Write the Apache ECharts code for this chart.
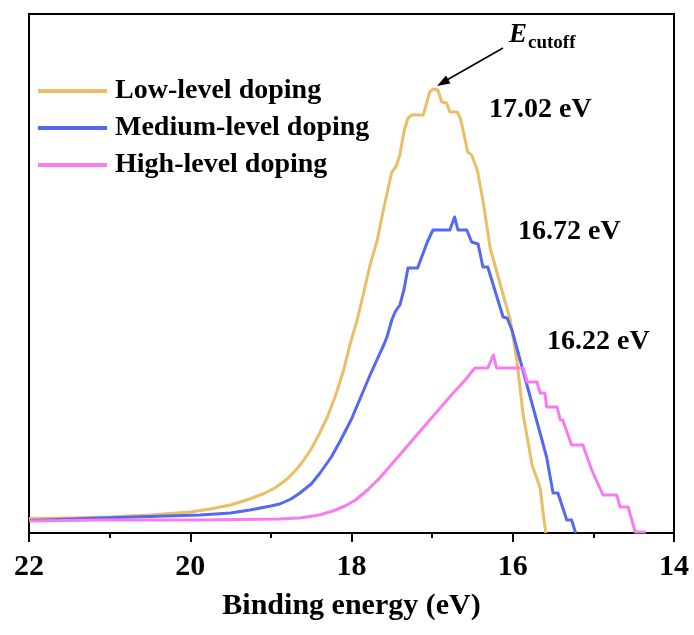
<!DOCTYPE html>
<html>
<head>
<meta charset="utf-8">
<script src="https://cdn.jsdelivr.net/npm/echarts@6/dist/echarts.min.js"></script>
<style>
html,body{margin:0;padding:0;background:#fff;}
#chart{width:694px;height:635px;}
</style>
</head>
<body>
<div id="chart"></div>
<script>
// ---- data (binding energy in eV, intensity in arbitrary units) ----
var seriesNames = ['Low-level doping', 'Medium-level doping', 'High-level doping'];
var xTicks = [22, 20, 18, 16, 14];

var lowE = [22.00, 21.50, 21.00, 20.50, 20.00, 19.75, 19.50, 19.30, 19.10, 18.95, 18.80, 18.70, 18.60, 18.50, 18.40, 18.30, 18.20, 18.10, 18.02, 17.93, 17.87, 17.77, 17.68, 17.61, 17.55, 17.50, 17.45, 17.40, 17.35, 17.30, 17.25, 17.11, 17.03, 16.99, 16.93, 16.88, 16.82, 16.78, 16.69, 16.65, 16.59, 16.56, 16.51, 16.44, 16.37, 16.28, 16.16, 16.03, 15.95, 15.87, 15.76, 15.66, 15.62, 15.59];
var lowI = [14.5, 15, 16, 18, 21, 24, 28, 33, 39, 45, 54, 62, 72, 84, 99, 116, 137, 162, 188, 213, 233, 268, 293, 321, 343, 361, 366, 378, 401, 415, 418, 418, 441, 444, 443, 431, 430, 421, 421, 415, 393, 381, 378, 363, 333, 285, 250, 213, 173, 118, 68, 45, 18, 0];

var medE = [22.00, 21.12, 20.50, 19.88, 19.50, 19.26, 19.00, 18.89, 18.75, 18.64, 18.50, 18.39, 18.25, 18.14, 18.00, 17.89, 17.78, 17.68, 17.60, 17.56, 17.50, 17.46, 17.40, 17.35, 17.30, 17.18, 17.06, 16.99, 16.78, 16.72, 16.68, 16.57, 16.51, 16.43, 16.37, 16.31, 16.12, 16.07, 16.01, 15.79, 15.58, 15.50, 15.44, 15.33, 15.27, 15.22];
var medI = [12.5, 15, 16.5, 18, 20, 23, 27, 29, 34, 40, 49, 60, 76, 92, 114, 135, 156, 174, 188, 196, 213, 221, 228, 243, 265, 265, 291, 303, 303, 316, 303, 303, 291, 289, 266, 266, 216, 215, 203, 138, 76, 40, 40, 13, 13, 0];

var highE = [22.00, 21.12, 19.88, 18.90, 18.64, 18.40, 18.23, 18.08, 17.95, 17.80, 17.65, 17.50, 17.35, 17.20, 17.05, 16.90, 16.75, 16.60, 16.47, 16.31, 16.24, 16.20, 15.87, 15.82, 15.70, 15.66, 15.60, 15.58, 15.45, 15.41, 15.38, 15.27, 15.13, 15.02, 14.88, 14.71, 14.67, 14.57, 14.48, 14.35];
var highI = [12, 13, 13, 14, 15, 18, 22, 27, 33, 43, 55, 69, 83, 97, 111, 125, 139, 152, 165, 165, 178, 165, 165, 151, 151, 140, 140, 126, 126, 113, 113, 88, 88, 63, 38, 38, 26, 26, 1, 1];

var colors = ['#EBBE65', '#5468F2', '#F77CEF'];

function pairs(xs, ys) { return xs.map(function (x, i) { return [x, ys[i]]; }); }

var FONT = '"Liberation Serif", "Times New Roman", serif';
var chart = echarts.init(document.getElementById('chart'), null, {renderer: 'canvas'});

var dataSets = [pairs(lowE, lowI), pairs(medE, medI), pairs(highE, highI)];

var option = {
  backgroundColor: '#fff',
  animation: false,
  grid: {left: 29, right: 20, top: 14, bottom: 102, show: true, borderColor: '#000', borderWidth: 2, containLabel: false},
  legend: {
    data: seriesNames,
    orient: 'vertical',
    left: 38, top: 77,
    icon: 'rect',
    itemWidth: 69, itemHeight: 4,
    itemGap: 9,
    padding: 0,
    textStyle: {fontFamily: FONT, fontWeight: 'bold', fontSize: 28, color: '#000', lineHeight: 28, padding: [0, 0, 0, 3]}
  },
  xAxis: {
    type: 'value', inverse: true, min: 14, max: 22, interval: 2,
    name: 'Binding energy (eV)', nameLocation: 'middle', nameGap: 58,
    nameTextStyle: {fontFamily: FONT, fontWeight: 'bold', fontSize: 30, color: '#000'},
    axisLine: {show: true, lineStyle: {color: '#000', width: 2}},
    axisTick: {show: true, inside: false, length: 9, lineStyle: {color: '#000', width: 2}},
    minorTick: {show: true, splitNumber: 2, length: 5, lineStyle: {color: '#000', width: 2}},
    axisLabel: {fontFamily: FONT, fontWeight: 'bold', fontSize: 30, color: '#000', margin: 19,
      formatter: function (v) { return xTicks.indexOf(v) >= 0 ? String(v) : ''; }},
    splitLine: {show: false}
  },
  yAxis: {
    type: 'value', min: 0, max: 519,
    axisLine: {show: false}, axisTick: {show: false}, axisLabel: {show: false}, splitLine: {show: false}
  },
  series: seriesNames.map(function (n, i) {
    return {
      name: n, type: 'line', data: dataSets[i], symbol: 'none', smooth: false,
      itemStyle: {color: colors[i]},
      lineStyle: {color: colors[i], width: 3, join: 'round'}
    };
  }),
  graphic: [
    {type: 'text', left: 489, top: 96, style: {text: '17.02 eV', font: 'bold 28px ' + FONT, fill: '#000'}},
    {type: 'text', left: 518, top: 218, style: {text: '16.72 eV', font: 'bold 28px ' + FONT, fill: '#000'}},
    {type: 'text', left: 547, top: 328, style: {text: '16.22 eV', font: 'bold 28px ' + FONT, fill: '#000'}},
    {type: 'text', left: 509, top: 22, style: {text: 'E', font: 'italic bold 27px ' + FONT, fill: '#000'}},
    {type: 'text', left: 528, top: 34, style: {text: 'cutoff', font: 'bold 19px ' + FONT, fill: '#000'}},
    {type: 'line', shape: {x1: 503, y1: 48, x2: 446, y2: 80.5}, style: {stroke: '#000', lineWidth: 1.5}},
    {type: 'polygon', shape: {points: [[437, 86], [450.5, 83.4], [446, 75.6]]}, style: {fill: '#000'}}
  ]
};
chart.setOption(option);
</script>
</body>
</html>
